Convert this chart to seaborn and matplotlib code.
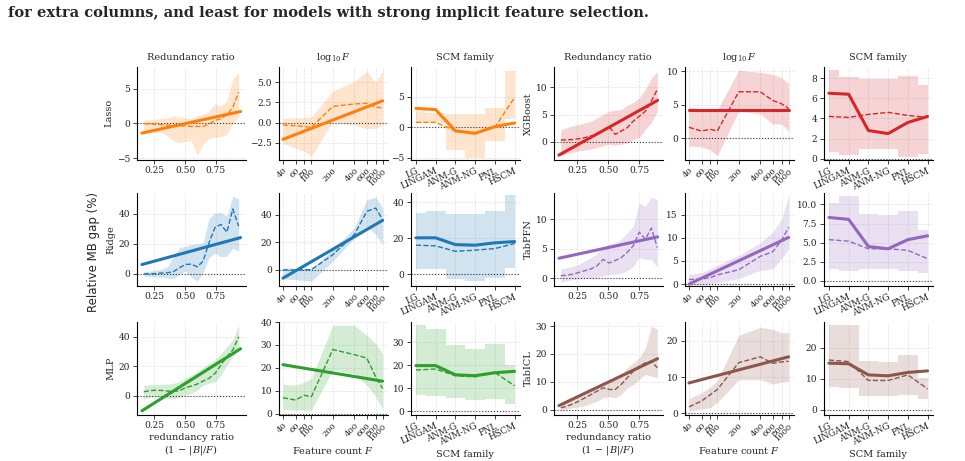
import matplotlib
matplotlib.use("Agg")
import matplotlib.pyplot as plt
import seaborn as sns

# ---------- datos ----------
models = ['Lasso', 'Ridge', 'MLP', 'XGBoost', 'TabPFN', 'TabICL']
model_colors = ['#ff7f0e', '#1f77b4', '#2ca02c', '#d62728', '#9467bd', '#8c564b']
scm_families = ['LG', 'LINGAM', 'ANM-G', 'ANM-NG', 'PNL', 'HSCM']
feature_counts = [40, 60, 80, 100, 200, 400, 600, 800, 1000]

# redundancy-ratio bins (linear models / others) and fit end points
redund_x_linear = [0.165, 0.213, 0.261, 0.309, 0.358, 0.406, 0.454, 0.502, 0.550,
                   0.598, 0.646, 0.694, 0.743, 0.791, 0.839, 0.887, 0.935]
redund_x_other = [0.115, 0.164, 0.213, 0.262, 0.311, 0.360, 0.409, 0.458, 0.507,
                  0.556, 0.605, 0.654, 0.703, 0.752, 0.801, 0.850, 0.898]
fit_x_linear = [0.15, 0.95]
fit_x_other = [0.10, 0.90]
fit_x_logf = [40, 1000]

# --- redundancy ratio panels: fit ends, median, lower, upper ---
lasso_red = dict(
    fit=[-1.4, 1.7],
    med=[-0.05, -0.1, -0.15, -0.2, -0.25, -0.3, -0.35, -0.4, -0.45, -0.45, -0.45, -0.1, 0.4, 0.7, 1.2, 2.3, 4.5],
    lo=[-1.4, -1.4, -1.3, -1.3, -1.8, -2.5, -2.8, -2.6, -2.5, -4.6, -3.0, -2.2, -2.0, -1.9, -1.6, 0.0, 1.0],
    hi=[0.4, 0.5, 0.6, 0.7, 0.8, 1.0, 0.9, 0.8, 0.7, 1.1, 1.3, 1.8, 2.8, 2.6, 3.2, 6.4, 7.2])
ridge_red = dict(
    fit=[6.2, 24.2],
    med=[0, 0, 0.2, 0.5, 0.7, 1.5, 4.0, 6.2, 6.5, 4.7, 8.4, 20.7, 31.0, 33.0, 27.8, 43.3, 31.8],
    lo=[-1.6, -1.6, -2.0, -2.2, -2.9, -3.3, -0.4, 1.8, -2.0, -4.9, 0.7, 10.7, 14.0, 11.3, 11.8, 17.3, 15.1],
    hi=[1.3, 1.8, 2.4, 3.1, 4.7, 11.8, 17.3, 18.4, 19.6, 20.0, 20.7, 37.0, 40.7, 41.0, 38.4, 52.0, 50.0])
mlp_red = dict(
    fit=[-10.2, 31.9],
    med=[2.7, 3.4, 3.8, 3.6, 3.2, 2.9, 3.4, 5.4, 6.6, 7.9, 10.0, 11.8, 15.2, 20.8, 26.5, 31.0, 40.0],
    lo=[-2.3, -1.1, -0.7, -1.1, -1.8, -1.8, -1.1, 0.5, 1.6, 3.8, 7.2, 8.4, 9.5, 14.0, 20.8, 26.5, 31.0],
    hi=[7.2, 7.5, 7.5, 7.9, 7.9, 8.4, 9.7, 11.8, 14.0, 16.3, 19.2, 22.0, 24.2, 28.7, 33.3, 37.8, 48.0])
xgb_red = dict(
    fit=[-2.4, 7.6],
    med=[0.35, 0.4, 0.45, 0.6, 0.8, 1.1, 1.4, 2.0, 2.8, 1.4, 2.0, 2.6, 3.8, 4.7, 5.6, 7.5, 9.6],
    lo=[-2.5, -2.2, -1.9, -1.6, -1.5, -1.3, -1.0, -0.7, -0.4, -0.6, -0.4, -0.2, 0.5, 0.8, 2.3, 3.5, 5.6],
    hi=[2.2, 2.6, 3.0, 3.2, 3.5, 3.8, 4.4, 5.0, 5.6, 5.8, 5.9, 6.7, 7.2, 8.1, 9.6, 11.7, 12.9])
tabpfn_red = dict(
    fit=[3.4, 7.0],
    med=[0.45, 0.55, 0.7, 1.0, 1.3, 1.6, 2.1, 3.2, 2.6, 3.0, 3.5, 4.4, 5.5, 7.8, 6.6, 8.5, 5.2],
    lo=[-0.6, -0.4, -0.2, -0.1, 0.0, 0.0, 0.1, 0.45, 0.7, 0.7, 0.9, 1.3, 2.0, 3.5, 3.2, 3.2, 1.8],
    hi=[1.6, 1.8, 2.0, 2.4, 3.0, 3.5, 4.2, 5.2, 5.8, 6.0, 6.6, 7.7, 8.8, 12.7, 12.2, 13.7, 13.3])
tabicl_red = dict(
    fit=[1.4, 18.3],
    med=[0.6, 1.2, 2.0, 3.0, 4.2, 5.4, 6.6, 7.8, 7.2, 7.2, 9.0, 11.4, 13.8, 15.6, 16.8, 17.4, 15.0],
    lo=[0.0, 0.2, 0.6, 1.0, 1.4, 2.2, 3.0, 4.2, 4.6, 4.2, 5.4, 7.8, 9.0, 10.8, 12.6, 12.0, 11.4],
    hi=[2.0, 3.0, 3.8, 4.6, 5.4, 6.6, 7.8, 9.6, 10.8, 11.4, 12.6, 15.0, 16.8, 18.6, 22.1, 30.0, 28.8])

# --- feature count panels ---
lasso_logf = dict(fit=[-2.1, 2.7],
                  med=[-0.3, -0.4, -0.5, -0.6, 2.0, 2.3, 2.4, 1.9, 1.8],
                  lo=[-2.6, -3.2, -3.6, -4.2, 0.1, -0.3, -0.8, -0.7, -0.3],
                  hi=[0.5, 0.6, 0.6, 0.7, 3.9, 5.1, 6.4, 5.0, 6.4])
ridge_logf = dict(fit=[-6.0, 35.9],
                  med=[0.0, 0.0, 0.0, 0.2, 11.0, 25.5, 42.4, 44.8, 36.4],
                  lo=[-6.5, -7.0, -7.7, -8.2, 6.3, 23.0, 31.6, 25.5, 18.3],
                  hi=[1.4, 1.2, 1.0, 0.7, 14.7, 30.4, 50.8, 52.8, 44.8])
mlp_logf = dict(fit=[21.4, 14.2],
                med=[7.0, 6.0, 8.1, 7.4, 28.0, 25.8, 24.3, 16.1, 11.0],
                lo=[1.9, 1.6, 1.6, 1.6, 19.0, 17.5, 12.5, 7.4, 1.9],
                hi=[12.9, 12.5, 13.9, 15.4, 38.6, 38.6, 34.2, 30.6, 26.2])
xgb_logf = dict(fit=[4.2, 4.2],
                med=[1.6, 1.05, 1.3, 1.05, 6.9, 6.9, 5.6, 5.1, 4.4],
                lo=[-1.2, -1.3, -1.8, -2.6, 4.0, 3.6, 2.1, 2.1, 1.0],
                hi=[4.6, 4.3, 4.2, 4.2, 10.1, 9.8, 9.5, 9.0, 8.1])
tabpfn_logf = dict(fit=[0.0, 10.1],
                   med=[1.0, 1.1, 1.4, 2.0, 3.1, 6.0, 7.0, 9.5, 12.3],
                   lo=[-0.3, -0.1, 0.1, 0.3, 1.2, 3.0, 3.3, 5.6, 7.5],
                   hi=[2.1, 2.5, 3.3, 4.1, 6.2, 9.0, 11.2, 14.2, 19.0])
tabicl_logf = dict(fit=[8.4, 15.6],
                   med=[1.8, 3.4, 5.2, 6.6, 14.0, 15.6, 13.8, 14.2, 14.4],
                   lo=[0.7, 1.2, 1.6, 3.0, 9.3, 9.3, 8.1, 8.6, 8.8],
                   hi=[4.1, 5.7, 7.2, 9.0, 21.6, 23.7, 23.2, 22.2, 22.3])

# --- SCM family panels ---
lasso_scm = dict(mean=[3.1, 2.9, -0.6, -1.0, 0.1, 0.7], med=[0.8, 0.8, -0.6, -1.0, 0.0, 4.9],
                 lo=[0.7, 0.7, -3.8, -5.1, -2.2, 1.3], hi=[2.6, 2.3, 2.2, 2.2, 3.1, 9.2])
ridge_scm = dict(mean=[20.2, 20.2, 16.4, 16.1, 17.4, 18.1], med=[16.1, 15.7, 12.7, 13.3, 14.2, 17.0],
                 lo=[2.6, 2.6, -3.0, -4.1, -2.1, 3.4], hi=[34.0, 35.0, 33.3, 33.5, 35.1, 44.0])
mlp_scm = dict(mean=[19.8, 19.8, 15.8, 15.4, 16.7, 17.3], med=[17.9, 18.3, 15.4, 14.9, 16.8, 11.0],
               lo=[6.9, 6.6, 5.6, 4.7, 5.1, 2.9], hi=[37.3, 35.9, 28.6, 27.1, 29.3, 20.2])
xgb_scm = dict(mean=[6.5, 6.4, 2.8, 2.5, 3.6, 4.2], med=[4.2, 4.1, 4.4, 4.6, 4.3, 4.1],
               lo=[0.7, 0.4, 1.0, 1.0, 0.15, 0.5], hi=[8.8, 8.1, 7.9, 7.9, 8.2, 7.3])
tabpfn_scm = dict(mean=[8.3, 8.05, 4.5, 4.2, 5.4, 5.9], med=[5.4, 5.2, 4.2, 4.2, 4.0, 2.9],
                  lo=[1.6, 1.3, 1.5, 1.5, 1.3, 1.0], hi=[10.2, 11.1, 8.7, 8.6, 9.1, 6.6])
tabicl_scm = dict(mean=[15.0, 14.8, 11.2, 10.9, 12.0, 12.5], med=[16.0, 15.5, 9.4, 9.4, 11.2, 6.7],
                  lo=[7.2, 7.0, 4.3, 4.3, 4.8, 3.4], hi=[27.3, 27.3, 15.7, 15.3, 17.6, 10.2])

red_data = [lasso_red, ridge_red, mlp_red, xgb_red, tabpfn_red, tabicl_red]
logf_data = [lasso_logf, ridge_logf, mlp_logf, xgb_logf, tabpfn_logf, tabicl_logf]
scm_data = [lasso_scm, ridge_scm, mlp_scm, xgb_scm, tabpfn_scm, tabicl_scm]

# ---------- estilo ----------
sns.set_theme(style='ticks')
plt.rcParams['font.family'] = 'serif'
plt.rcParams['font.serif'] = ['DejaVu Serif']
plt.rcParams['mathtext.fontset'] = 'dejavuserif'
plt.rcParams['axes.edgecolor'] = 'black'
plt.rcParams['axes.linewidth'] = 0.8

# y limits per model: [redundancy, log F, SCM]
ylims = [[(-5.2, 8.1), (-4.6, 6.9), (-5.3, 9.9)],
         [(-7.8, 54), (-11.3, 55.7), (-6.4, 45.2)],
         [(-12.7, 50), (-0.3, 40), (-1.5, 38.8)],
         [(-3.2, 13.7), (-3.2, 10.6), (-0.07, 9.1)],
         [(-1.2, 14.4), (-0.3, 19.7), (-0.6, 11.5)],
         [(-1.8, 31.5), (-0.3, 25.2), (-1.6, 28.3)]]

W, H = 965, 461
col_left = [137, 279, 411, 554, 685, 824]
row_top = [67, 193, 322]
ax_w, ax_h = 108.5, 92.5

fig = plt.figure(figsize=(W / 100, H / 100), dpi=100)


def style_axis(ax):
    ax.grid(True, ls='--', lw=0.5, color='#e2e2e2')
    ax.set_axisbelow(True)
    sns.despine(ax=ax)
    ax.tick_params(labelsize=6.5, length=3, width=0.6, pad=2, colors='#222222')
    ax.axhline(0, color='black', ls=':', lw=0.8, alpha=0.75, zorder=1.5)


for m, model in enumerate(models):
    color = model_colors[m]
    r = m % 3
    block = m // 3
    axes = []
    for k in range(3):
        c = block * 3 + k
        rect = [col_left[c] / W, 1 - (row_top[r] + ax_h) / H, ax_w / W, ax_h / H]
        axes.append(fig.add_axes(rect))
    ax_red, ax_f, ax_scm = axes

    # redundancy ratio
    d = red_data[m]
    xs = redund_x_linear if block == 0 else redund_x_other
    fx = fit_x_linear if block == 0 else fit_x_other
    ax_red.fill_between(xs, d['lo'], d['hi'], color=color, alpha=0.2, lw=0)
    sns.lineplot(x=xs, y=d['med'], ax=ax_red, color=color, lw=1.0, linestyle='--')
    sns.lineplot(x=fx, y=d['fit'], ax=ax_red, color=color, lw=2.2)
    style_axis(ax_red)
    ax_red.set_xlim((0.11, 0.99) if block == 0 else (0.06, 0.94))
    ax_red.set_xticks([0.25, 0.5, 0.75])
    ax_red.set_ylim(ylims[m][0])
    ax_red.set_ylabel(model, fontsize=7, labelpad=2)

    # feature count
    d = logf_data[m]
    ax_f.set_xscale('log')
    ax_f.fill_between(feature_counts, d['lo'], d['hi'], color=color, alpha=0.2, lw=0)
    sns.lineplot(x=feature_counts, y=d['med'], ax=ax_f, color=color, lw=1.0, linestyle='--')
    sns.lineplot(x=fit_x_logf, y=d['fit'], ax=ax_f, color=color, lw=2.2)
    style_axis(ax_f)
    ax_f.set_xlim(35.2, 1170)
    ax_f.xaxis.set_minor_locator(matplotlib.ticker.NullLocator())
    ax_f.set_xticks(feature_counts)
    ax_f.set_xticklabels([str(v) for v in feature_counts], rotation=45, ha='right',
                         rotation_mode='anchor', fontsize=6)
    ax_f.set_ylim(ylims[m][1])
    ax_f.set_ylabel('')

    # SCM family
    d = scm_data[m]
    pos = list(range(len(scm_families)))
    ax_scm.fill_between(pos, d['lo'], d['hi'], step='mid', color=color, alpha=0.2, lw=0)
    sns.lineplot(x=pos, y=d['med'], ax=ax_scm, color=color, lw=1.0, linestyle='--')
    sns.lineplot(x=pos, y=d['mean'], ax=ax_scm, color=color, lw=2.2)
    style_axis(ax_scm)
    ax_scm.set_xlim(-0.25, 5.25)
    ax_scm.set_xticks(pos)
    ax_scm.set_xticklabels(scm_families, rotation=25, ha='right', rotation_mode='anchor', fontsize=6.3)
    ax_scm.set_ylim(ylims[m][2])
    ax_scm.set_ylabel('')

    if r == 0:
        ax_red.set_title('Redundancy ratio', fontsize=7, pad=5)
        ax_f.set_title(r'$\log_{10} F$', fontsize=7, pad=5)
        ax_scm.set_title('SCM family', fontsize=7, pad=5)
    if r == 2:
        ax_red.set_xlabel('redundancy ratio\n$(1\\,-\\,|B|/F)$', fontsize=7, labelpad=2, linespacing=1.1)
        ax_f.set_xlabel('Feature count $F$', fontsize=7, labelpad=2)
        ax_scm.set_xlabel('SCM family', fontsize=7, labelpad=2)

fig.text(93 / W, 1 - 252 / H, 'Relative MB gap (%)', rotation=90, ha='center', va='center',
         fontsize=8.5, family='DejaVu Sans')
fig.text(8 / W, 1 - 13 / H,
         'for extra columns, and least for models with strong implicit feature selection.',
         ha='left', va='center', fontsize=10.5, fontweight='bold', family='DejaVu Serif')

fig.savefig('out.png', dpi=100)
